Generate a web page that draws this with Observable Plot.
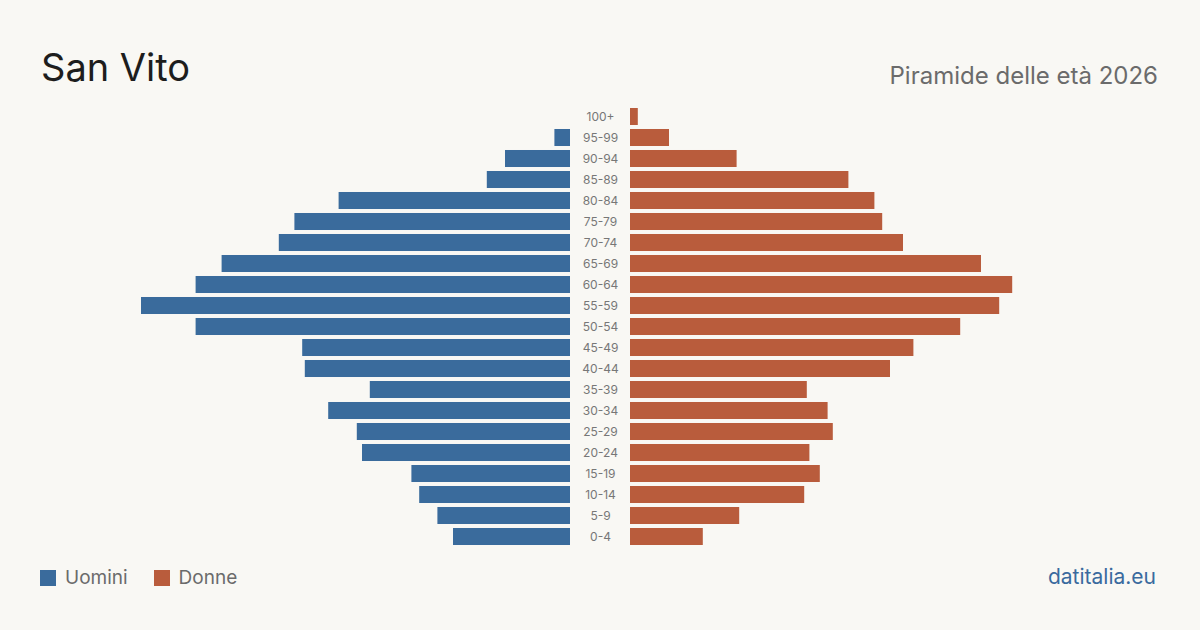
<!DOCTYPE html>
<html>
<head>
<meta charset="utf-8">
<script src="https://cdn.jsdelivr.net/npm/d3@7"></script>
<script src="https://cdn.jsdelivr.net/npm/@observablehq/plot@0.6"></script>
<style>
  html, body { margin: 0; padding: 0; background: #f9f8f4; }
  #wrap { position: relative; width: 1200px; height: 630px; background: #f9f8f4; font-family: Inter, "Noto Sans", sans-serif; overflow: hidden; }
  #title { position: absolute; left: 41px; top: 48px; font-size: 38px; color: #1d1d1d; line-height: 1; }
  #subtitle { position: absolute; right: 42px; top: 64px; font-size: 24px; color: #6b6b6b; line-height: 1; }
  #chart { position: absolute; left: 0; top: 0; }
  #legend { position: absolute; left: 40px; top: 566px; font-size: 19px; color: #6b6b6b; display: flex; align-items: center; }
  .sw { display: inline-block; width: 16px; height: 16px; margin-right: 9px; }
  .item { display: flex; align-items: center; margin-right: 26px; }
  #source { position: absolute; right: 44px; top: 564px; font-size: 21px; color: #3a6a9e; }
</style>
</head>
<body>
<div id="wrap">
  <div id="chart"></div>
  <div id="title">San Vito</div>
  <div id="subtitle">Piramide delle età 2026</div>
  <div id="legend">
    <div class="item"><span class="sw" style="background:#3a6b9c"></span>Uomini</div>
    <div class="item"><span class="sw" style="background:#b95c3c"></span>Donne</div>
  </div>
  <div id="source">datitalia.eu</div>
</div>
<script>
const ages = ["100+","95-99","90-94","85-89","80-84","75-79","70-74","65-69","60-64","55-59","50-54","45-49","40-44","35-39","30-34","25-29","20-24","15-19","10-14","5-9","0-4"];
const uomini = [0,6,25,32,89,106,112,134,144,165,144,103,102,77,93,82,80,61,58,51,45];
const donne = [3,15,41,84,94,97,105,135,147,142,127,109,100,68,76,78,69,73,67,42,28];

const menData = ages.map((a, i) => ({age: a, v: uomini[i]}));
const womenData = ages.map((a, i) => ({age: a, v: donne[i]}));

const chart = Plot.plot({
  width: 1200,
  height: 630,
  marginLeft: 132,
  marginRight: 132,
  marginTop: 106,
  marginBottom: 83,
  style: {background: "transparent", fontFamily: "Inter, 'Noto Sans', sans-serif"},
  x: {domain: [-180, 180], axis: null},
  y: {domain: ages, axis: null, round: false, paddingInner: 0.19, paddingOuter: 0.095},
  marks: [
    Plot.barX(menData, {y: "age", x1: d => -d.v, x2: 0, dx: -30, fill: "#3a6b9c"}),
    Plot.barX(womenData, {y: "age", x1: 0, x2: d => d.v, dx: 30, fill: "#b95c3c"}),
    Plot.text(ages, {y: d => d, x: 0, text: d => d, fill: "#777", fontSize: 12})
  ]
});
document.getElementById("chart").appendChild(chart);
</script>
</body>
</html>
